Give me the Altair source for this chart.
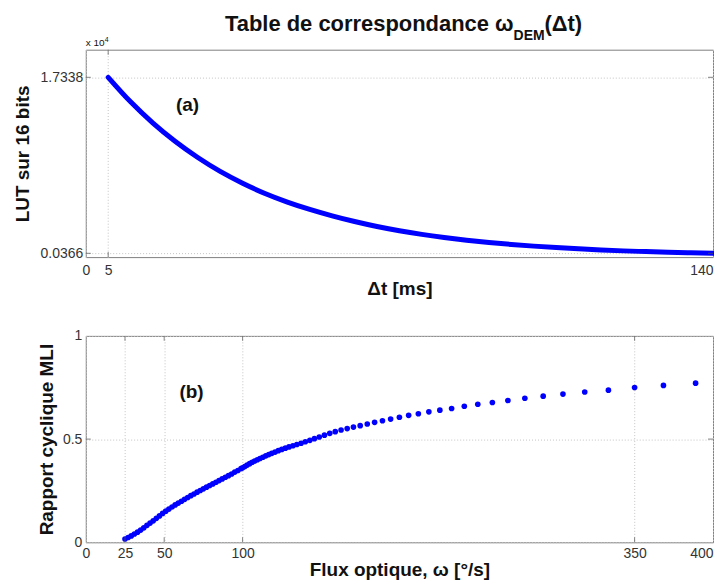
import altair as alt
import pandas as pd

# ---------------- data ----------------
# panel (a): LUT value (x 10^4) versus delta t [ms]
dt_ms = [5, 10, 15, 20, 25, 30, 35, 40, 45, 50, 55, 60, 65, 70, 75,
         80, 85, 90, 95, 100, 105, 110, 115, 120, 125, 130, 135, 140]
lut_e4 = [1.7338, 1.497, 1.292, 1.114, 0.960, 0.826, 0.712, 0.614, 0.531,
          0.460, 0.398, 0.343, 0.295, 0.254, 0.219, 0.189, 0.163, 0.141,
          0.122, 0.106, 0.092, 0.080, 0.069, 0.060, 0.053, 0.046, 0.041, 0.0366]

# panel (b): PWM duty cycle versus optical flow omega [deg/s]
omega = [25, 27, 29, 31, 33, 35, 37, 39, 41, 43, 45, 47, 49, 51, 53, 55, 57,
         59, 61, 63, 65, 67, 69, 71, 73, 75, 77, 79, 81, 83, 85, 87, 89, 91,
         93, 95, 97, 99, 100.0, 101.4, 102.9, 104.5, 106.1, 107.7, 109.4,
         111.1, 112.9, 114.8, 116.7, 118.6, 120.7, 122.8, 125.0, 127.3, 129.6,
         132.1, 134.6, 137.3, 140.0, 142.9, 145.8, 148.9, 152.2, 155.6, 159.1,
         162.8, 166.7, 170.7, 175.0, 179.5, 184.2, 189.2, 194.4, 200.0, 205.9,
         212.1, 218.8, 225.8, 233.3, 241.4, 250.0, 259.3, 269.2, 280.0, 291.7,
         304.3, 318.2, 333.3, 350.0, 368.4, 388.9]
duty = [0.016, 0.023, 0.031, 0.040, 0.049, 0.059, 0.070, 0.082, 0.093, 0.104,
        0.116, 0.128, 0.140, 0.151, 0.161, 0.171, 0.181, 0.190, 0.199, 0.208,
        0.217, 0.226, 0.234, 0.243, 0.251, 0.259, 0.267, 0.275, 0.283, 0.291,
        0.299, 0.307, 0.315, 0.323, 0.331, 0.340, 0.348, 0.357, 0.361, 0.367,
        0.374, 0.381, 0.388, 0.394, 0.400, 0.406, 0.412, 0.419, 0.425, 0.431,
        0.437, 0.444, 0.450, 0.456, 0.462, 0.468, 0.474, 0.480, 0.487, 0.494,
        0.502, 0.510, 0.519, 0.528, 0.536, 0.544, 0.551, 0.558, 0.565, 0.573,
        0.581, 0.589, 0.597, 0.606, 0.615, 0.623, 0.632, 0.640, 0.648, 0.659,
        0.669, 0.677, 0.687, 0.698, 0.708, 0.718, 0.728, 0.737, 0.750, 0.760,
        0.771]

xa_ticks = [0, 5, 140]
ya_ticks = [0.0366, 1.7338]
xb_ticks = [0, 25, 50, 100, 350, 400]
yb_ticks = [0, 0.5, 1]

title_main = "Table de correspondance ω"
title_sub = "DEM"
title_end = "(Δt)"
exp_base = "x 10"
exp_pow = "4"
tag_a = "(a)"
tag_b = "(b)"

# ---------------- styling ----------------
FONT = "Liberation Sans"
BLUE = "#0000ff"
TICK = "#505050"
W = 629
HA = 208
HB = 207

common = dict(
    grid=True, gridColor="#c4c4c4", gridDash=[1, 2], gridWidth=1,
    domain=False, ticks=False,
    labelFont=FONT, labelFontSize=14, labelColor="#333333",
    titleFont=FONT, titleFontSize=19, titleFontWeight="bold", titleColor="#111111",
)

df_a = pd.DataFrame({"dt": dt_ms, "lut": lut_e4})
df_b = pd.DataFrame({"w": omega, "r": duty})


def note(text, x, y, size, weight="bold", align="left", baseline="top"):
    return alt.Chart(pd.DataFrame({"t": [text]})).mark_text(
        align=align, baseline=baseline, font=FONT, fontSize=size,
        fontWeight=weight, color="#111111"
    ).encode(x=alt.value(x), y=alt.value(y), text="t:N")


def inner_ticks(values, field, along, height, width):
    """MATLAB-style inward tick marks on both sides of the frame."""
    df = pd.DataFrame({field: values})
    if along == "x":
        return [
            alt.Chart(df).mark_tick(color=TICK, size=5, thickness=1, orient="vertical")
            .encode(x=alt.X(f"{field}:Q"), y=alt.value(2.5)),
            alt.Chart(df).mark_tick(color=TICK, size=5, thickness=1, orient="vertical")
            .encode(x=alt.X(f"{field}:Q"), y=alt.value(height - 2.5)),
        ]
    return [
        alt.Chart(df).mark_tick(color=TICK, size=5, thickness=1, orient="horizontal")
        .encode(y=alt.Y(f"{field}:Q"), x=alt.value(2.5)),
        alt.Chart(df).mark_tick(color=TICK, size=5, thickness=1, orient="horizontal")
        .encode(y=alt.Y(f"{field}:Q"), x=alt.value(width - 2.5)),
    ]


line_a = alt.Chart(df_a).mark_line(
    color=BLUE, strokeWidth=5, strokeCap="round", interpolate="monotone"
).encode(
    x=alt.X("dt:Q", scale=alt.Scale(domain=[0, 140], nice=False, zero=False),
            axis=alt.Axis(values=xa_ticks, format="d", title="Δt [ms]",
                          labelFlush=False,
                          labelAlign={"condition": {"test": "datum.value >= 140", "value": "right"},
                                      "value": "center"},
                          labelPadding=6, titlePadding=3, **common)),
    y=alt.Y("lut:Q", scale=alt.Scale(domain=[0, 2], nice=False),
            axis=alt.Axis(values=ya_ticks, format=".4f", title="LUT sur 16 bits",
                          labelFlush=False, labelPadding=3,
                          titleX=-57, titleBaseline="alphabetic", **common)),
)

panel_a = alt.layer(
    line_a,
    *inner_ticks(xa_ticks[1:-1], "dt", "x", HA, W),
    *inner_ticks(ya_ticks, "lut", "y", HA, W),
    note(title_main, 429, -36, 22, align="right"),
    note(title_sub, 429, -21, 14),
    note(title_end, 460, -36, 22),
    note(exp_base, 0, -4, 10, weight="normal", baseline="alphabetic"),
    note(exp_pow, 19, -8, 7, weight="normal", baseline="alphabetic"),
    note(tag_a, 102, 55, 19, align="center", baseline="middle"),
).properties(width=W, height=HA)

pts_b = alt.Chart(df_b).mark_circle(color=BLUE, opacity=1, size=32).encode(
    x=alt.X("w:Q", scale=alt.Scale(domain=[0, 400], nice=False, zero=False),
            axis=alt.Axis(values=xb_ticks, format="d", title="Flux optique, ω [°/s]",
                          labelFlush=False,
                          labelAlign={"condition": {"test": "datum.value >= 400", "value": "right"},
                                      "value": "center"},
                          labelPadding=4, titlePadding=0, **common)),
    y=alt.Y("r:Q", scale=alt.Scale(domain=[0, 1], nice=False),
            axis=alt.Axis(values=yb_ticks, format=".1~f", title="Rapport cyclique MLI",
                          labelFlush=False, labelPadding=4,
                          titleX=-33, titleBaseline="alphabetic", **common)),
)

panel_b = alt.layer(
    pts_b,
    *inner_ticks(xb_ticks[1:-1], "w", "x", HB, W),
    *inner_ticks(yb_ticks[1:-1], "r", "y", HB, W),
    note(tag_b, 106, 56, 19, align="center", baseline="middle"),
).properties(width=W, height=HB)

chart = alt.vconcat(panel_a, panel_b, spacing=79, bounds="flush").properties(
    padding={"left": 5, "top": 3, "right": -10, "bottom": 0}
).configure_view(stroke="#808080", strokeWidth=1)

chart.save("out.html", embed_options={"renderer": "svg", "actions": False})
